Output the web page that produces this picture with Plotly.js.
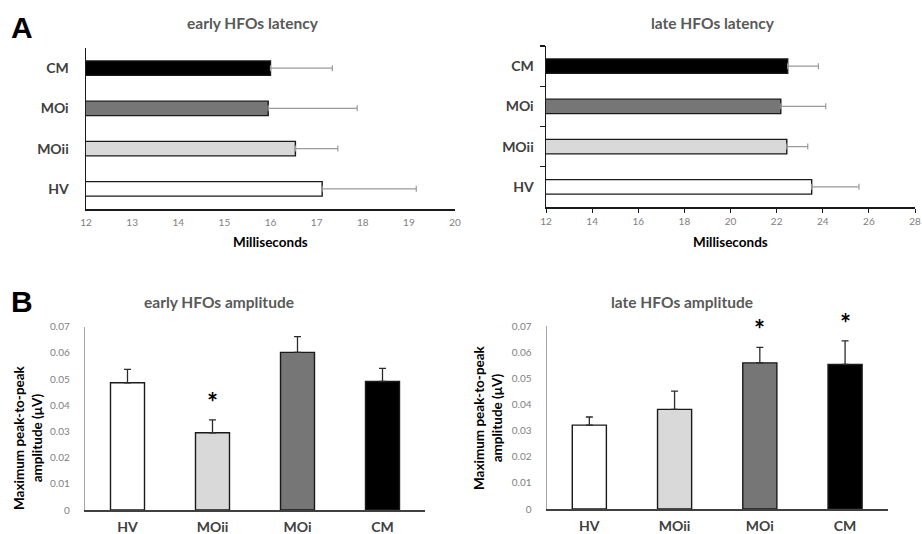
<!DOCTYPE html>
<html><head><meta charset="utf-8">
<script src="https://cdn.plot.ly/plotly-3.0.1.min.js"></script>
<style>html,body{margin:0;padding:0;background:#fff}</style>
</head><body><div id="chart" style="width:922px;height:534px"></div>
<script>
// ---- data ----
const latencyGroups = ['CM', 'MOi', 'MOii', 'HV'];
const earlyLatency = [16.00, 15.95, 16.54, 17.12];
const earlyLatencyErr = [1.34, 1.93, 0.92, 2.04];
const lateLatency = [22.48, 22.18, 22.44, 23.52];
const lateLatencyErr = [1.33, 1.95, 0.91, 2.05];

const ampGroups = ['HV', 'MOii', 'MOi', 'CM'];
const earlyAmp = [0.0486, 0.0295, 0.0602, 0.0491];
const earlyAmpErr = [0.0051, 0.0049, 0.0060, 0.0050];
const earlyAmpSig = ['', '*', '', ''];
const lateAmp = [0.0321, 0.0381, 0.0559, 0.0553];
const lateAmpErr = [0.0031, 0.0070, 0.0059, 0.0090];
const lateAmpSig = ['', '', '*', '*'];

const panelTitles = ['early HFOs latency', 'late HFOs latency', 'early HFOs amplitude', 'late HFOs amplitude'];
const latencyAxisTitle = 'Milliseconds';
const ampAxisTitle = 'Maximum peak-to-peak<br>amplitude (\u03bcV)';
const panelLetters = ['A', 'B'];

// ---- styles ----
const groupColor = {CM: '#000000', MOi: '#767676', MOii: '#d9d9d9', HV: '#ffffff'};
const W = 922, H = 534;
const px = v => v / W;
const py = v => 1 - v / H;
const FONT = 'Lato, "Open Sans", sans-serif';

function hbar(vals, errs, xa, ya) {
  return {
    type: 'bar', orientation: 'h', y: latencyGroups, x: vals,
    xaxis: xa, yaxis: ya, width: 0.36,
    marker: {color: latencyGroups.map(g => groupColor[g]), line: {color: '#1a1a1a', width: 1.4}},
    error_x: {type: 'data', symmetric: false, array: errs, arrayminus: errs.map(() => 0),
              color: '#9a9a9a', thickness: 1.2, width: 3},
    hoverinfo: 'none', showlegend: false
  };
}
function vbar(vals, errs, xa, ya) {
  return {
    type: 'bar', x: ampGroups, y: vals, xaxis: xa, yaxis: ya, width: 0.4,
    marker: {color: ampGroups.map(g => groupColor[g]), line: {color: '#1a1a1a', width: 1.4}},
    error_y: {type: 'data', symmetric: false, array: errs, arrayminus: errs.map(() => 0),
              color: '#2a2a2a', thickness: 1.3, width: 3.5},
    hoverinfo: 'none', showlegend: false
  };
}

const data = [
  hbar(earlyLatency, earlyLatencyErr, 'x', 'y'),
  hbar(lateLatency, lateLatencyErr, 'x2', 'y2'),
  vbar(earlyAmp, earlyAmpErr, 'x3', 'y3'),
  vbar(lateAmp, lateAmpErr, 'x4', 'y4')
];

const catFont = {family: FONT, size: 14, color: '#404040', weight: 'bold'};
const numFont = {family: FONT, size: 10, color: '#808080'};

function latX(dom, anchor, rng, dt, withTicks) {
  return {domain: dom, anchor: anchor, range: rng, dtick: dt, tick0: rng[0],
    showline: true, linecolor: '#1a1a1a', linewidth: 1.5, showgrid: false, zeroline: false,
    ticks: withTicks ? 'outside' : '', ticklen: 4, tickcolor: '#1a1a1a', tickwidth: 1,
    tickfont: numFont, ticklabelstandoff: withTicks ? 0 : 3, fixedrange: true};
}
function latY(dom, anchor, withTicks) {
  return {domain: dom, anchor: anchor, type: 'category', categoryorder: 'array',
    categoryarray: latencyGroups.slice().reverse(), range: [-0.5, 3.5],
    showline: true, linecolor: '#1a1a1a', linewidth: 1.5, showgrid: false, zeroline: false,
    ticks: withTicks ? 'outside' : '', tickson: 'boundaries', ticklen: 5, tickcolor: '#1a1a1a', tickwidth: 1.2,
    tickfont: catFont, ticklabelstandoff: withTicks ? 8 : 13, fixedrange: true};
}
function ampX(dom, anchor) {
  return {domain: dom, anchor: anchor, type: 'category', categoryorder: 'array', categoryarray: ampGroups,
    range: [-0.5, 3.5], showline: true, linecolor: '#404040', linewidth: 1.5, showgrid: false, zeroline: false,
    ticks: '', tickfont: catFont, ticklabelstandoff: 4, fixedrange: true};
}
function ampY(dom, anchor) {
  return {domain: dom, anchor: anchor, range: [0, 0.07], dtick: 0.01, tick0: 0,
    showline: true, linecolor: '#a6a6a6', linewidth: 1.2, showgrid: false, zeroline: false,
    ticks: '', tickfont: numFont, ticklabelstandoff: 12, fixedrange: true};
}

const titleFont = {family: FONT, size: 15.5, color: '#595959', weight: 'bold'};
const axTitleFont = {family: FONT, size: 13.5, color: '#000000', weight: 'bold'};
const letterFont = {family: '"Liberation Sans", Arial, sans-serif', size: 30, color: '#000000', weight: 'bold'};

function txt(text, x, y, font, extra) {
  return Object.assign({text: text, xref: 'paper', yref: 'paper', x: px(x), y: py(y),
    xanchor: 'center', yanchor: 'middle', showarrow: false, font: font}, extra || {});
}

const annotations = [
  txt(panelLetters[0], 22, 27, letterFont),
  txt(panelLetters[1], 22, 301, letterFont),
  txt(panelTitles[0], 253, 23, titleFont),
  txt(panelTitles[1], 713, 23, titleFont),
  txt(panelTitles[2], 219, 302, titleFont),
  txt(panelTitles[3], 682, 302, titleFont),
  txt(latencyAxisTitle, 270, 242, axTitleFont),
  txt(latencyAxisTitle, 730, 242, axTitleFont),
  txt(ampAxisTitle, 28, 438, axTitleFont, {textangle: -90}),
  txt(ampAxisTitle, 488, 418, axTitleFont, {textangle: -90})
];
function stars(sig, vals, errs, xa, ya) {
  sig.forEach((s, i) => {
    if (s) annotations.push({text: s, x: ampGroups[i], y: vals[i] + errs[i], xref: xa, yref: ya,
      xanchor: 'center', yanchor: 'bottom', yshift: 0, showarrow: false,
      font: {family: FONT, size: 26, color: '#000', weight: 'bold'}});
  });
}
stars(earlyAmpSig, earlyAmp, earlyAmpErr, 'x3', 'y3');
stars(lateAmpSig, lateAmp, lateAmpErr, 'x4', 'y4');

const layout = {
  width: W, height: H, margin: {l: 0, r: 0, t: 0, b: 0},
  paper_bgcolor: '#ffffff', plot_bgcolor: 'rgba(0,0,0,0)', showlegend: false,
  xaxis: latX([px(86), px(455)], 'y', [12, 20], 1, false),
  yaxis: latY([py(209), py(48)], 'x', false),
  xaxis2: latX([px(546), px(915)], 'y2', [12, 28], 2, true),
  yaxis2: latY([py(207), py(46)], 'x2', true),
  xaxis3: ampX([px(85), px(425)], 'y3'),
  yaxis3: ampY([py(510), py(326.7)], 'x3'),
  xaxis4: ampX([px(546.7), px(887.7)], 'y4'),
  yaxis4: ampY([py(509), py(326)], 'x4'),
  annotations: annotations
};

Plotly.newPlot('chart', data, layout, {displayModeBar: false, staticPlot: true});
</script></body></html>
